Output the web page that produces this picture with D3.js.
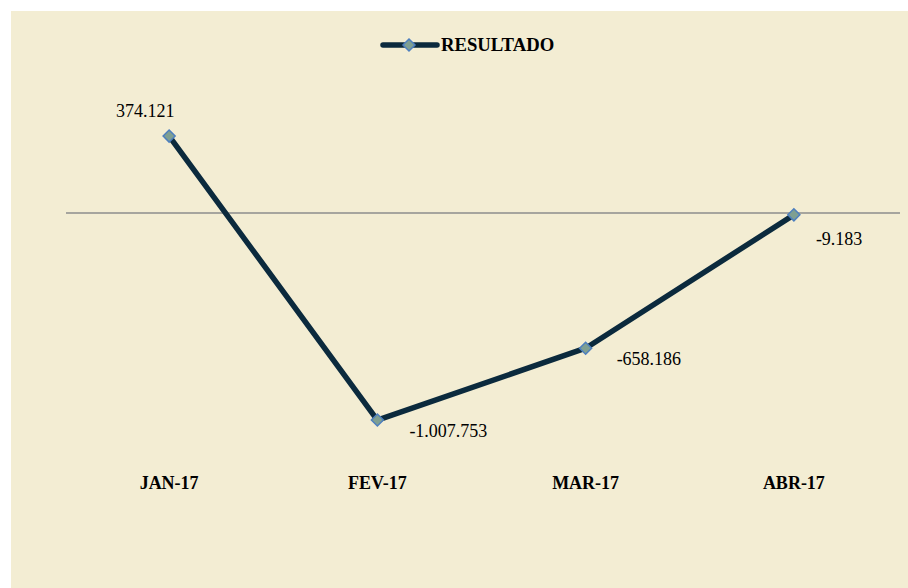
<html>
<head>
<script src="https://d3js.org/d3.v7.min.js"></script>
<style>
  body { margin: 0; background: #ffffff; }
  svg { display: block; }
</style>
</head>
<body>
<div id="chart"></div>
<script>
  var categories = ["JAN-17", "FEV-17", "MAR-17", "ABR-17"];
  var values = [374121, -1007753, -658186, -9183];
  var valueLabels = ["374.121", "-1.007.753", "-658.186", "-9.183"];
  var seriesName = "RESULTADO";

  var width = 908, height = 588;
  var font = "'Liberation Serif', 'Times New Roman', 'DejaVu Serif', serif";
  var svg = d3.select("#chart").append("svg")
    .attr("width", width)
    .attr("height", height)
    .style("font-family", font);

  // chart background
  svg.append("rect")
    .attr("x", 11).attr("y", 11)
    .attr("width", width - 11).attr("height", height - 11)
    .attr("fill", "#F3EDD3");

  var x = d3.scaleBand().domain(categories).range([65, 898]);
  var y = d3.scaleLinear().domain([-1500000, 500000]).range([521.2, 110.2]);

  // zero line
  svg.append("line")
    .attr("x1", 66).attr("x2", 900)
    .attr("y1", y(0)).attr("y2", y(0))
    .attr("stroke", "#8C8C8C").attr("stroke-width", 1.5);

  var pts = categories.map(function(c, i) { return [x(c) + x.bandwidth() / 2, y(values[i])]; });

  svg.append("path")
    .attr("d", d3.line()(pts))
    .attr("fill", "none")
    .attr("stroke", "#0B2A3D")
    .attr("stroke-width", 5.5)
    .attr("stroke-linejoin", "round");

  function diamond(g, cx, cy) {
    g.append("path")
      .attr("d", "M" + cx + "," + (cy - 6) + "L" + (cx + 6) + "," + cy + "L" + cx + "," + (cy + 6) + "L" + (cx - 6) + "," + cy + "Z")
      .attr("fill", "#7E9F92")
      .attr("stroke", "#4D7FBE")
      .attr("stroke-width", 1.5);
  }

  pts.forEach(function(p) { diamond(svg, p[0], p[1]); });

  // data labels
  function label(txt, px, py, anchor) {
    svg.append("text").attr("x", px).attr("y", py)
      .attr("text-anchor", anchor || "start")
      .attr("font-family", font)
      .attr("font-size", 18).attr("fill", "#000").text(txt);
  }
  label(valueLabels[0], pts[0][0] - 24, pts[0][1] - 19, "middle");
  label(valueLabels[1], pts[1][0] + 32, pts[1][1] + 17);
  label(valueLabels[2], pts[2][0] + 31, pts[2][1] + 17);
  label(valueLabels[3], pts[3][0] + 22, pts[3][1] + 30);

  // category labels
  svg.selectAll(".cat").data(categories).enter().append("text")
    .attr("class", "cat")
    .attr("x", function(d) { return x(d) + x.bandwidth() / 2; })
    .attr("y", 489)
    .attr("text-anchor", "middle")
    .attr("font-family", font)
    .attr("font-size", 18)
    .attr("font-weight", "bold")
    .text(function(d) { return d; });

  // legend
  svg.append("line")
    .attr("x1", 383).attr("x2", 437).attr("y1", 45).attr("y2", 45)
    .attr("stroke", "#0B2A3D").attr("stroke-width", 5.5).attr("stroke-linecap", "round");
  diamond(svg, 409, 45);
  svg.append("text").attr("x", 441).attr("y", 51)
    .attr("font-family", font)
    .attr("font-size", 18.7).attr("font-weight", "bold").text(seriesName);
</script>
</body>
</html>
